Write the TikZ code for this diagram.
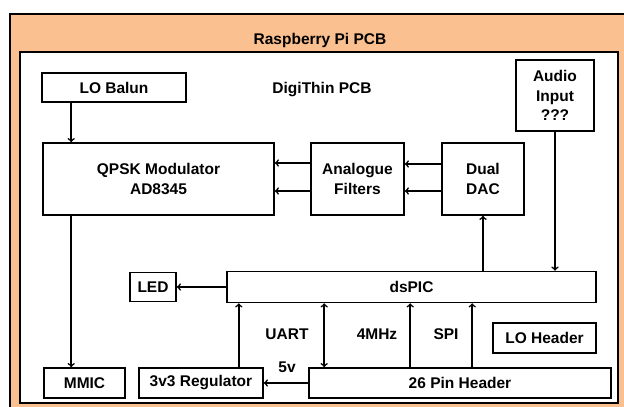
\documentclass[tikz,border=0pt]{standalone}
\usepackage{fontspec}
\setmainfont{Liberation Sans}
\usetikzlibrary{calc,positioning}
\definecolor{pcborange}{RGB}{250,192,143}

\begin{document}
\begin{tikzpicture}[x=1pt, y=-1pt, line width=1.6pt,
	blk/.style = {draw, fill=white, align=center, inner sep=0pt, font=\bfseries\fontsize{15.5}{19.5}\selectfont},
	lbl/.style = {inner sep=0pt, font=\bfseries\fontsize{15.5}{19.5}\selectfont}]
	\useasboundingbox (0,0) rectangle (624,407);
	% boards
	\draw[fill=pcborange] (10,14) rectangle (640,420);
	\draw[fill=white] (20,52) rectangle (618,403);
	\node[lbl] (rpi) at (320,40) {Raspberry Pi PCB};
	\node[lbl] (digi) at (322,90) {DigiThin PCB};
	% blocks
	\node[blk, minimum width=144pt, minimum height=29pt] (balun) at (114,87.5) {LO Balun};
	\node[blk, minimum width=78pt, minimum height=71pt] (audio) at (555,95.5) {Audio\\Input\\???};
	\node[blk, minimum width=231pt, minimum height=72pt] (qpsk) at (158.5,179) {QPSK Modulator\\AD8345};
	\node[blk, minimum width=93pt, minimum height=72pt] (filt) at (357.5,179) {Analogue\\Filters};
	\node[blk, minimum width=82pt, minimum height=72pt] (dac) at (483,179) {Dual\\DAC};
	\node[blk, minimum width=369pt, minimum height=31pt] (dspic) at (411.5,287) {dsPIC};
	\node[blk, minimum width=46pt, minimum height=29pt] (led) at (153,287) {LED};
	\node[blk, minimum width=103pt, minimum height=30pt] (lohdr) at (544.5,338) {LO Header};
	\node[blk, minimum width=81pt, minimum height=30pt] (mmic) at (84.5,383) {MMIC};
	\node[blk, minimum width=124pt, minimum height=30pt] (reg) at (201,383) {3v3 Regulator};
	\node[blk, minimum width=302pt, minimum height=30pt] (hdr) at (460,383) {26 Pin Header};
	% bus labels
	\node[lbl] (uart) at (287,334) {UART};
	\node[lbl] (clk) at (377,334) {4MHz};
	\node[lbl] (spi) at (446,334) {SPI};
	\node[lbl] (pwr) at (287,367) {5v};
	% connections
	\draw[->] ([xshift=30pt]balun.south west) -- ([xshift=30pt]balun.south west |- qpsk.north);
	\draw[->] ([xshift=29pt]qpsk.south west) -- ([xshift=29pt]qpsk.south west |- mmic.north);
	\draw[->] ([yshift=16pt]filt.west) -- ([yshift=16pt]qpsk.east);
	\draw[->] ([yshift=-12pt]filt.west) -- ([yshift=-12pt]qpsk.east);
	\draw[->] ([yshift=15pt]dac.west) -- ([yshift=15pt]filt.east);
	\draw[->] ([yshift=-12pt]dac.west) -- ([yshift=-12pt]filt.east);
	\draw[->] (dac.south |- dspic.north) -- (dac.south);
	\draw[->] (audio.south) -- (audio.south |- dspic.north);
	\draw[->] (dspic.west) -- (led.east);
	\draw[->] ([xshift=-25pt]reg.north east) -- ([xshift=-25pt]reg.north east |- dspic.south);
	\draw[<->] ([xshift=16pt]hdr.north west) -- ([xshift=16pt]hdr.north west |- dspic.south);
	\draw[->] ([xshift=102pt]hdr.north west) -- ([xshift=102pt]hdr.north west |- dspic.south);
	\draw[->] ([xshift=164pt]hdr.north west) -- ([xshift=164pt]hdr.north west |- dspic.south);
	\draw[->] (hdr.west) -- (reg.east);
\end{tikzpicture}
\end{document}
